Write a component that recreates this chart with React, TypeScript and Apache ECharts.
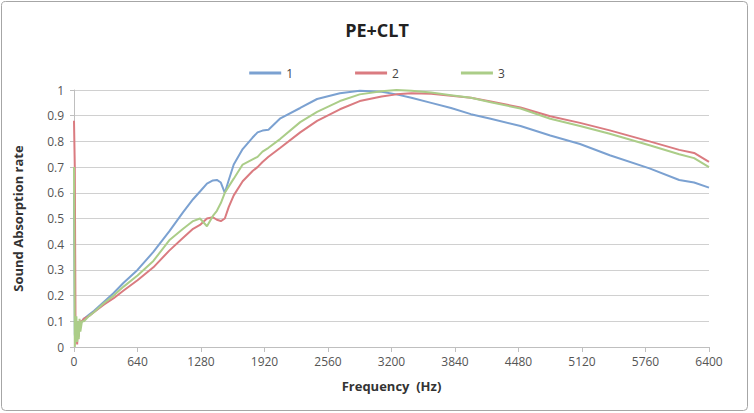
import React, { useEffect, useRef } from "react";
import * as echarts from "echarts";

const title = "PE+CLT";
const seriesNames = ["1", "2", "3"];
const xTitle = "Frequency  (Hz)";
const yTitle = "Sound Absorption rate";

const freqs = [
  0, 8, 16, 24, 32, 40, 48, 56, 64, 80, 100, 150, 200, 300, 400, 500, 640, 800, 960, 1100,
  1200, 1270, 1340, 1400, 1440, 1480, 1520, 1560, 1610, 1700, 1800, 1850, 1900, 1960, 2080,
  2280, 2450, 2680, 2880, 3100, 3250, 3400, 3600, 3800, 4000, 4200, 4500, 4800, 5100, 5400,
  5800, 6100, 6250, 6400,
];

const series1 = [
  0.6, 0.05, 0.02, 0.08, 0.03, 0.09, 0.05, 0.1, 0.09, 0.1, 0.11, 0.125, 0.14, 0.175, 0.21, 0.25,
  0.3, 0.37, 0.45, 0.525, 0.575, 0.605, 0.636, 0.648, 0.65, 0.64, 0.6, 0.65, 0.71, 0.77, 0.815,
  0.835, 0.842, 0.845, 0.89, 0.93, 0.965, 0.987, 0.997, 0.993, 0.983, 0.97, 0.95, 0.93, 0.906,
  0.888, 0.86, 0.823, 0.79, 0.746, 0.695, 0.65, 0.64, 0.62,
];

const series2 = [
  0.88, 0.7, 0.02, 0.06, 0.01, 0.1, 0.04, 0.09, 0.1, 0.1, 0.11, 0.12, 0.135, 0.165, 0.19, 0.22,
  0.26, 0.31, 0.375, 0.425, 0.46, 0.475, 0.5, 0.505, 0.495, 0.49, 0.5, 0.545, 0.59, 0.645, 0.685,
  0.7, 0.72, 0.74, 0.775, 0.835, 0.88, 0.925, 0.957, 0.975, 0.983, 0.987, 0.985, 0.978, 0.97,
  0.955, 0.932, 0.898, 0.872, 0.843, 0.8, 0.767, 0.755, 0.72,
];

const series3 = [
  0.7, 0.0, 0.05, 0.12, 0.02, 0.1, 0.03, 0.11, 0.06, 0.1, 0.1, 0.12, 0.135, 0.17, 0.2, 0.235,
  0.278, 0.335, 0.415, 0.46, 0.49, 0.5, 0.47, 0.51, 0.53, 0.56, 0.6, 0.625, 0.655, 0.71, 0.73,
  0.74, 0.76, 0.775, 0.81, 0.875, 0.915, 0.957, 0.983, 0.995, 1.0, 0.997, 0.99, 0.98, 0.97,
  0.952, 0.928, 0.888, 0.86, 0.83, 0.785, 0.75, 0.735, 0.7,
];

const colors = ["#7BA1D1", "#DA7B80", "#ABCD88"];

const FONT = "'Open Sans', 'Liberation Sans', sans-serif";

export default function App() {
  const ref = useRef<HTMLDivElement>(null);
  useEffect(() => {
    if (!ref.current) return;
    const chart = echarts.init(ref.current, undefined, { renderer: "svg" });
    const allSeries = [series1, series2, series3];
    chart.setOption({
      animation: false,
      backgroundColor: "#ffffff",
      color: colors,
      title: {
        text: title,
        left: "center",
        top: 16,
        textStyle: { fontFamily: FONT, fontSize: 18, fontWeight: "bold", color: "#222" },
      },
      legend: {
        data: seriesNames,
        top: 62,
        left: "center",
        icon: "rect",
        itemWidth: 32,
        itemHeight: 3,
        itemGap: 62,
        textStyle: { fontFamily: FONT, fontSize: 12, color: "#444" },
      },
      grid: { left: 74, right: 45, top: 90, bottom: 66 },
      xAxis: {
        type: "value",
        min: 0,
        max: 6400,
        interval: 640,
        name: xTitle,
        nameLocation: "middle",
        nameGap: 32,
        nameTextStyle: { fontFamily: FONT, fontSize: 13, fontWeight: "bold", color: "#333" },
        axisLine: { show: true, lineStyle: { color: "#BFBFBF" } },
        axisTick: { show: true, length: 5, lineStyle: { color: "#BFBFBF" } },
        axisLabel: {
          fontFamily: FONT,
          fontSize: 12,
          color: "#555",
          margin: 8,
          formatter: (v: number) => String(v),
        },
        splitLine: { show: false },
      },
      yAxis: {
        type: "value",
        min: 0,
        max: 1,
        interval: 0.1,
        name: yTitle,
        nameLocation: "middle",
        nameGap: 50,
        nameTextStyle: { fontFamily: FONT, fontSize: 13, fontWeight: "bold", color: "#333" },
        axisLine: { show: true, lineStyle: { color: "#BFBFBF" } },
        axisTick: { show: true, length: 4, lineStyle: { color: "#BFBFBF" } },
        axisLabel: {
          fontFamily: FONT,
          fontSize: 12,
          color: "#555",
          margin: 10,
          formatter: (v: number) => String(+v.toFixed(1)),
        },
        splitLine: { show: true, lineStyle: { color: "#D0D0D0", width: 1 } },
      },
      graphic: [
        {
          type: "rect",
          shape: { x: 1.5, y: 1.5, width: 746, height: 409, r: 4 },
          style: { fill: "none", stroke: "#A6A6A6", lineWidth: 1 },
          silent: true,
        },
      ],
      series: seriesNames.map((name, i) => ({
        name,
        type: "line",
        symbol: "none",
        smooth: false,
        lineStyle: { width: 2, color: colors[i] },
        data: freqs.map((f, j) => [f, allSeries[i][j]]),
      })),
    });
    return () => chart.dispose();
  }, []);
  return (
    <div
      ref={ref}
      style={{ position: "fixed", left: 0, top: 0, width: 754, height: 413 }}
    />
  );
}
